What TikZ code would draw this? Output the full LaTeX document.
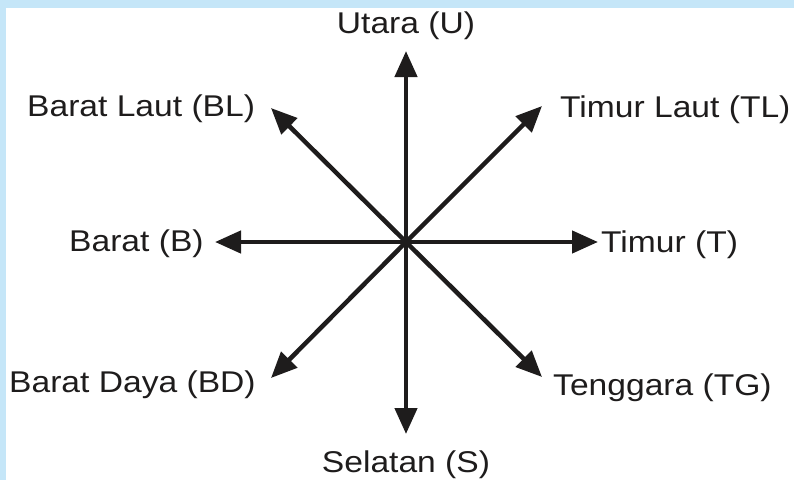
\documentclass[tikz,border=0pt]{standalone}
\usepackage{fontspec}
\setmainfont[FakeStretch=1.12]{Liberation Sans}
\usetikzlibrary{arrows.meta}
\definecolor{frameblue}{RGB}{197,230,248}
\definecolor{ink}{RGB}{30,28,28}
\begin{document}
\begin{tikzpicture}[x=1pt,y=-1pt,
  lbl/.style={inner sep=0pt,text=ink,font=\fontsize{30}{34}\selectfont},
  dirarrow/.style={draw=ink,line width=4.5pt,-{Triangle[length=26pt,width=22pt]}}]
\useasboundingbox (0,0) rectangle (794,480);
\fill[white] (0,0) rectangle (794,480);
\fill[frameblue] (0,0) rectangle (794,8);
\fill[frameblue] (0,0) rectangle (6,480);
% centre and arrow ends
\coordinate (O) at (406,242);
\coordinate (U) at (406,51);
\coordinate (S) at (406,434);
\coordinate (B) at (215,242);
\coordinate (T) at (598,242);
\coordinate (BL) at (271,108);
\coordinate (TL) at (542,106);
\coordinate (BD) at (271,378);
\coordinate (TG) at (542,377);
\foreach \e in {U,S,B,T,BL,TL,BD,TG}{\draw[dirarrow] (O) -- (\e);}
% labels
\node[lbl,anchor=base] (lU) at (406,33) {Utara (U)};
\node[lbl,anchor=base] (lS) at (406,472) {Selatan (S)};
\node[lbl,anchor=base west] (lBL) at (27,116) {Barat Laut (BL)};
\node[lbl,anchor=base west] (lTL) at (560,117) {Timur Laut (TL)};
\node[lbl,anchor=base west] (lB) at (69,251) {Barat (B)};
\node[lbl,anchor=base west] (lT) at (601,252) {Timur (T)};
\node[lbl,anchor=base west] (lBD) at (9,392) {Barat Daya (BD)};
\node[lbl,anchor=base west] (lTG) at (553,395) {Tenggara (TG)};
\end{tikzpicture}
\end{document}
